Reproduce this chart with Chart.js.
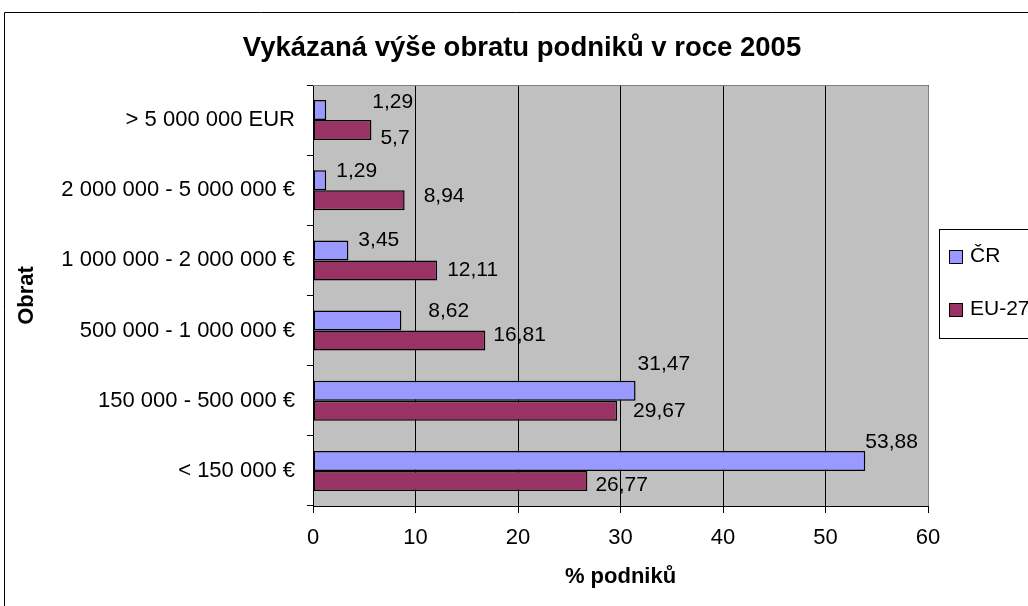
<!DOCTYPE html>
<html lang="cs">
<head>
<meta charset="UTF-8">
<title>Vykázaná výše obratu podniků v roce 2005</title>
<style>
    html, body { margin: 0; padding: 0; background: #fff; }
    #chart-container { width: 1028px; height: 606px; position: relative; }
</style>
</head>
<body>
<div id="chart-container"><canvas id="chart"></canvas></div>

<script src="https://cdn.jsdelivr.net/npm/chart.js"></script>
<script>
    // Data
    var kategorie = ['> 5 000 000 EUR', '2 000 000 - 5 000 000 €', '1 000 000 - 2 000 000 €',
                     '500 000 - 1 000 000 €', '150 000 - 500 000 €', '< 150 000 €'];
    var hodnotyCR = [1.29, 1.29, 3.45, 8.62, 31.47, 53.88];
    var hodnotyEU = [5.7, 8.94, 12.11, 16.81, 29.67, 26.77];
    var xTicks = [0, 10, 20, 30, 40, 50, 60];
    var nadpis = 'Vykázaná výše obratu podniků v roce 2005';

    // posun popisků [dx, dy] od konce sloupce (v Excelu ručně posunuté)
    var posunCR = [[46, -8], [10, -9], [10, -10], [27, -9], [2, -27], [0, -19]];
    var posunEU = [[9, 8], [19, -4], [10, 0], [8, -5], [16, 0], [8, 4]];

    var FONT = "'Liberation Sans', Arial, sans-serif";

    // šedé pozadí grafu, rámečky, nadpis a legenda
    var plotArea = {
        id: 'plotArea',
        beforeDraw: function (chart) {
            var a = chart.chartArea, ctx = chart.ctx;
            ctx.save();
            ctx.fillStyle = '#C0C0C0';
            ctx.fillRect(a.left, a.top, a.right - a.left, a.bottom - a.top);
            ctx.restore();
        },
        afterDraw: function (chart) {
            var a = chart.chartArea, ctx = chart.ctx;
            ctx.save();
            ctx.strokeStyle = '#808080';
            ctx.lineWidth = 1;
            ctx.beginPath();
            ctx.moveTo(a.left, a.top + 0.5);
            ctx.lineTo(a.right + 0.5, a.top + 0.5);
            ctx.lineTo(a.right + 0.5, a.bottom);
            ctx.stroke();

            // vnější rámeček
            ctx.strokeStyle = '#000';
            ctx.beginPath();
            ctx.moveTo(4.5, chart.height);
            ctx.lineTo(4.5, 12.5);
            ctx.lineTo(chart.width, 12.5);
            ctx.stroke();

            // nadpis
            ctx.fillStyle = '#000';
            ctx.font = 'bold 27.5px ' + FONT;
            ctx.textAlign = 'center';
            ctx.textBaseline = 'middle';
            ctx.fillText(nadpis, 522, 48);

            // legenda
            var lx = Math.round(a.right) + 11.5;
            var ly = Math.round((a.top + a.bottom) / 2) - 66.5;
            ctx.fillStyle = '#fff';
            ctx.fillRect(lx, ly, 120, 109);
            ctx.strokeRect(lx, ly, 120, 109);
            ctx.font = '21px ' + FONT;
            ctx.textAlign = 'left';
            chart.data.datasets.forEach(function (ds, i) {
                var cy = ly + 27 + i * 53;
                ctx.fillStyle = ds.backgroundColor;
                ctx.fillRect(lx + 10, cy - 6, 13, 13);
                ctx.strokeRect(lx + 10, cy - 6, 13, 13);
                ctx.fillStyle = '#000';
                ctx.fillText(ds.label, lx + 30.5, cy);
            });
            ctx.restore();
        }
    };

    // popisky hodnot
    var popisky = {
        id: 'popisky',
        afterDatasetsDraw: function (chart) {
            var ctx = chart.ctx;
            var posuny = [posunCR, posunEU];
            ctx.save();
            ctx.font = '21px ' + FONT;
            ctx.fillStyle = '#000';
            ctx.textAlign = 'left';
            ctx.textBaseline = 'middle';
            chart.data.datasets.forEach(function (ds, i) {
                chart.getDatasetMeta(i).data.forEach(function (bar, j) {
                    var p = posuny[i][j];
                    var txt = String(ds.data[j]).replace('.', ',');
                    ctx.fillText(txt, bar.x + p[0], bar.y + p[1]);
                });
            });
            ctx.restore();
        }
    };

    var ctx = document.getElementById('chart').getContext('2d');
    var chart = new Chart(ctx, {
        type: 'bar',
        data: {
            labels: kategorie,
            datasets: [{
                label: 'ČR',
                data: hodnotyCR,
                backgroundColor: '#9999FF',
                borderColor: '#000',
                borderWidth: 1.5,
                borderSkipped: false
            }, {
                label: 'EU-27',
                data: hodnotyEU,
                backgroundColor: '#993366',
                borderColor: '#000',
                borderWidth: 1.5,
                borderSkipped: false
            }]
        },
        options: {
            indexAxis: 'y',
            responsive: true,
            maintainAspectRatio: false,
            animation: false,
            categoryPercentage: 0.57,
            barPercentage: 1.0,
            layout: { padding: { left: 10, right: 100, top: 85, bottom: 0 } },
            plugins: {
                legend: { display: false },
                tooltip: { enabled: false },
                title: { display: false }
            },
            scales: {
                x: {
                    min: 0,
                    max: 60,
                    afterBuildTicks: function (scale) {
                        scale.ticks = xTicks.map(function (v) { return { value: v }; });
                    },
                    afterFit: function (scale) { scale.height = 100; },
                    grid: { color: '#000', lineWidth: 1, tickLength: 7, tickColor: '#000' },
                    border: { display: true, color: '#000', width: 1 },
                    ticks: { color: '#000', padding: 12, font: { family: FONT, size: 22 } },
                    title: {
                        display: true,
                        text: '% podniků',
                        color: '#000',
                        font: { family: FONT, size: 22, weight: 'bold' },
                        padding: { top: 0, bottom: 16 }
                    }
                },
                y: {
                    afterFit: function (scale) { scale.width = 303; },
                    grid: { drawOnChartArea: false, offset: true, tickLength: 6, color: '#000' },
                    border: { display: true, color: '#000', width: 1 },
                    ticks: { color: '#000', padding: 12, font: { family: FONT, size: 22 } },
                    title: {
                        display: true,
                        text: 'Obrat',
                        color: '#000',
                        font: { family: FONT, size: 22, weight: 'bold' },
                        padding: { top: 4, bottom: 0 }
                    }
                }
            }
        },
        plugins: [plotArea, popisky]
    });
</script>
</body>
</html>
